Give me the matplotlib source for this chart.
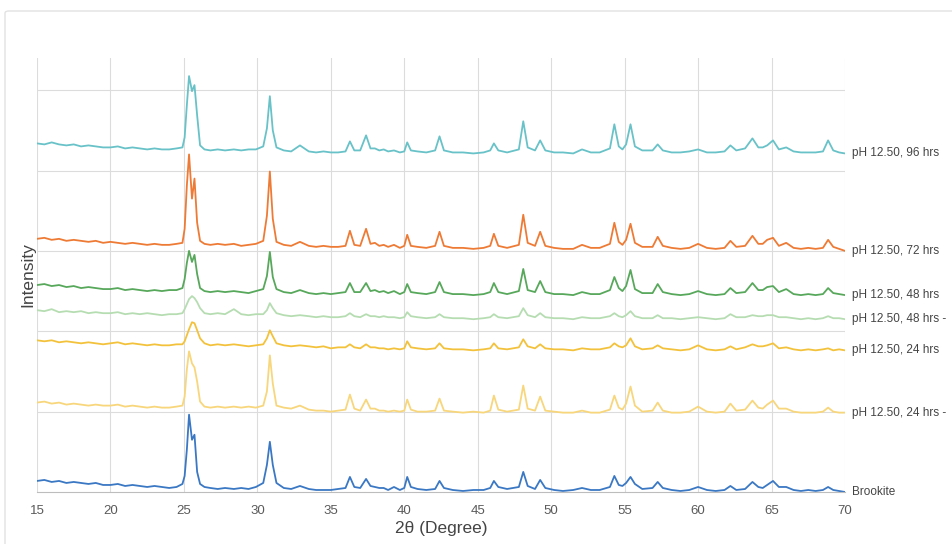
import matplotlib
matplotlib.use("Agg")
import matplotlib.pyplot as plt
from matplotlib.patches import FancyBboxPatch

plt.rcParams['font.family'] = ['Liberation Sans', 'DejaVu Sans']

# 2-theta positions (degree)
two_theta = [
    15.0, 15.5, 16.0, 16.5, 17.0, 17.5, 18.0, 18.5, 19.0, 19.5, 20.0, 20.5, 21.0, 21.5, 22.0, 22.5, 23.0, 23.5, 24.0, 24.5,
    24.9, 25.05, 25.2, 25.35, 25.55, 25.72, 25.9, 26.1,
    26.4, 26.8, 27.3, 27.8, 28.4, 28.9, 29.4, 29.9, 30.4,
    30.65, 30.85, 31.05, 31.3,
    31.8, 32.3, 32.9, 33.5, 34.0, 34.5, 35.0, 35.5, 36.0,
    36.3, 36.6, 37.0, 37.4, 37.7, 38.0, 38.3, 38.6, 38.9, 39.3, 39.7, 40.0, 40.2, 40.45,
    40.9, 41.5, 42.1, 42.4, 42.7, 43.3, 44.0, 44.7, 45.4, 45.85, 46.1, 46.4,
    47.0, 47.8, 48.1, 48.4, 48.9, 49.25, 49.6, 50.2, 50.8, 51.5, 52.1, 52.7,
    53.3, 54.0, 54.3, 54.6, 54.85, 55.1, 55.4, 55.7, 56.2, 56.9, 57.25, 57.6,
    58.2, 58.8, 59.4, 60.0, 60.6, 61.2, 61.8, 62.2, 62.6, 63.2, 63.7, 64.1,
    64.4, 64.7, 65.1, 65.5, 66.0, 66.5, 67.0, 67.5, 68.0, 68.5, 68.85, 69.2,
    69.6, 70.0,
]

# intensities (stacked, arbitrary units)
brookite = [
    11, 12, 10, 11, 9, 10, 9, 8, 9, 7, 7, 8, 6, 7, 6, 5, 6, 5, 4, 5,
    8, 16, 42, 77, 52, 57, 20, 8,
    5, 4, 3, 4, 3, 4, 3, 5, 9,
    27, 50, 27, 9,
    4, 3, 6, 3, 2, 2, 2, 3, 4,
    15, 5, 4, 13, 6, 5, 4, 4, 2, 5, 2, 4, 15, 5,
    3, 2, 3, 11, 4, 2, 1, 2, 2, 4, 11, 5,
    3, 5, 20, 6, 3, 12, 4, 2, 1, 2, 4, 2,
    2, 5, 16, 7, 6, 9, 15, 8, 3, 4, 10, 4,
    2, 1, 2, 5, 2, 1, 2, 6, 2, 3, 10, 5,
    4, 7, 11, 5, 5, 2, 1, 2, 1, 2, 5, 2,
    1, 0,
]
ph24_b = [
    89, 90, 88, 89, 87, 88, 87, 86, 87, 86, 86, 87, 85, 86, 85, 84, 85, 84, 84, 85,
    86, 95, 122, 140, 128, 124, 110, 90,
    85, 84, 85, 84, 85, 84, 85, 84, 86,
    100, 136, 108, 86,
    84, 83, 86, 82, 81, 81, 80, 81, 82,
    97, 83, 81, 92, 83, 83, 81, 81, 80, 81, 80, 81, 92, 82,
    80, 80, 81, 93, 81, 80, 79, 80, 79, 81, 96, 82,
    80, 82, 106, 83, 81, 95, 81, 80, 79, 79, 81, 79,
    79, 82, 96, 84, 82, 88, 105, 86, 80, 81, 89, 81,
    79, 79, 80, 85, 80, 79, 80, 88, 81, 82, 91, 84,
    83, 87, 91, 83, 83, 80, 79, 79, 79, 80, 84, 80,
    79, 79,
]
ph24_a = [
    151, 150, 151, 149, 150, 149, 148, 149, 148, 147, 148, 149, 147, 148, 147, 146, 147, 146, 146, 147,
    147, 150, 156, 162, 169, 168, 161, 153,
    148, 146, 147, 146, 147, 146, 145, 146, 147,
    153, 161, 155, 148,
    146, 145, 146, 145, 144, 145, 143, 144, 144,
    147, 144, 143, 147, 144, 144, 143, 143, 142, 143, 142, 143, 150, 144,
    143, 142, 143, 148, 143, 142, 142, 141, 142, 143, 148, 143,
    142, 144, 152, 145, 143, 147, 143, 142, 142, 141, 143, 142,
    142, 144, 148, 145, 144, 146, 153, 145, 142, 143, 146, 143,
    142, 141, 142, 146, 142, 141, 142, 145, 142, 144, 147, 145,
    145, 146, 148, 143, 144, 142, 141, 142, 141, 142, 143, 141,
    142, 141,
]
ph48_b = [
    181, 180, 182, 179, 180, 179, 180, 178, 179, 178, 178, 179, 177, 178, 177, 178, 177, 176, 177, 177,
    178, 182, 187, 192, 195, 193, 189, 183,
    178, 177, 178, 177, 182, 177, 176, 177, 177,
    181, 188, 183, 178,
    176, 175, 176, 175, 174, 175, 174, 174, 175,
    178, 175, 174, 177, 175, 175, 174, 175, 174, 174, 173, 174, 179, 175,
    174, 173, 174, 177, 174, 173, 173, 172, 173, 174, 177, 174,
    173, 175, 183, 176, 174, 178, 174, 173, 173, 172, 174, 173,
    173, 175, 178, 175, 174, 176, 180, 175, 173, 173, 176, 173,
    173, 172, 173, 174, 173, 172, 173, 177, 174, 174, 176, 175,
    175, 176, 176, 174, 174, 173, 172, 173, 172, 173, 175, 173,
    173, 172,
]
ph48_a = [
    206, 207, 205, 206, 204, 205, 203, 204, 203, 202, 202, 203, 201, 202, 201, 200, 201, 200, 201, 201,
    203, 212, 228, 240, 229, 236, 217, 203,
    200, 199, 200, 199, 200, 199, 198, 200, 202,
    215, 239, 214, 202,
    199, 198, 201, 198, 197, 198, 197, 198, 199,
    208, 199, 199, 208, 200, 201, 199, 200, 198, 200, 197, 199, 207, 199,
    198, 197, 199, 209, 199, 197, 197, 196, 197, 199, 208, 199,
    197, 200, 222, 201, 199, 210, 199, 197, 197, 196, 199, 197,
    197, 201, 214, 203, 200, 205, 221, 202, 198, 198, 207, 199,
    197, 196, 197, 200, 197, 196, 197, 203, 198, 199, 208, 201,
    201, 204, 205, 199, 202, 197, 196, 197, 196, 197, 203, 198,
    197, 196,
]
ph72 = [
    252, 253, 251, 252, 250, 251, 250, 249, 250, 248, 249, 248, 247, 248, 247, 246, 247, 246, 246, 247,
    248, 262, 305, 336, 292, 312, 268, 250,
    247, 246, 247, 246, 247, 245, 246, 247, 250,
    275, 319, 272, 249,
    246, 245, 249, 245, 244, 245, 244, 244, 245,
    260, 246, 245, 262, 247, 248, 245, 246, 244, 246, 243, 245, 256, 245,
    244, 243, 245, 259, 245, 243, 243, 242, 243, 245, 257, 245,
    243, 246, 276, 248, 245, 259, 245, 243, 242, 242, 246, 243,
    243, 247, 268, 249, 246, 251, 267, 248, 244, 244, 254, 245,
    243, 242, 243, 247, 243, 242, 243, 250, 244, 245, 255, 247,
    247, 251, 253, 245, 248, 243, 242, 243, 242, 243, 251, 244,
    242, 240,
]
ph96 = [
    347, 346, 348, 346, 345, 346, 344, 345, 344, 343, 343, 344, 342, 343, 342, 341, 342, 341, 341, 342,
    343, 353, 385, 414, 399, 405, 375, 345,
    341, 340, 341, 340, 341, 340, 341, 341, 344,
    362, 394, 360, 343,
    340, 339, 345, 339, 338, 339, 338, 338, 339,
    349, 340, 340, 355, 342, 342, 340, 341, 339, 340, 338, 339, 348, 340,
    339, 338, 340, 354, 340, 338, 338, 337, 338, 340, 347, 340,
    338, 341, 369, 343, 340, 350, 340, 338, 338, 337, 341, 338,
    338, 342, 366, 344, 341, 346, 366, 344, 340, 340, 346, 340,
    338, 338, 339, 341, 338, 338, 339, 345, 340, 342, 352, 343,
    343, 345, 350, 341, 343, 339, 338, 338, 338, 339, 350, 340,
    338, 337,
]

series = [brookite, ph24_b, ph24_a, ph48_b, ph48_a, ph72, ph96]
labels = ["Brookite", "pH 12.50, 24 hrs -", "pH 12.50, 24 hrs", "pH 12.50, 48 hrs -",
          "pH 12.50, 48 hrs", "pH 12.50, 72 hrs", "pH 12.50, 96 hrs"]
colors = ["#3b78c4", "#f7d67c", "#f3c23c", "#b6ddb2", "#58a85c", "#ee7b35", "#68c2c8"]

fig = plt.figure(figsize=(9.52, 5.44), dpi=100)

ax = fig.add_axes([37 / 952, 52 / 544, 808 / 952, 434 / 544])
ax.set_facecolor("none")

# outer card border (behind everything)
card = FancyBboxPatch((5 / 952, -0.05), 1.0, 1.0 - 11 / 544 + 0.05,
                      boxstyle="round,pad=0,rounding_size=0.004",
                      transform=fig.transFigure, facecolor="none",
                      edgecolor="#e2e2e2", linewidth=1.0, zorder=-5)
fig.patches.append(card)

for ys, lab, c in zip(series, labels, colors):
    ax.plot(two_theta, ys, color=c, linewidth=1.3, solid_joinstyle="round")
    ax.annotate(lab, xy=(two_theta[-1], ys[-1]), xytext=(5, 0),
                textcoords="offset points", va="center", ha="left",
                fontsize=8.5, color="#444444", annotation_clip=False)

ax.set_xlim(15, 70)
ax.set_ylim(0, 432)
ax.set_xticks(range(15, 71, 5))
ax.set_yticks(range(80, 432, 80))
ax.set_yticklabels([])
ax.tick_params(axis="both", length=0, labelsize=9.5, labelcolor="#5a5a5a", pad=9)
ax.grid(True, color="#dcdcdc", linewidth=0.8)
ax.set_axisbelow(True)
for s in ["top", "right", "left"]:
    ax.spines[s].set_visible(False)
ax.spines["bottom"].set_color("#bdbdbd")
ax.set_xlabel("2θ (Degree)", fontsize=12.5, color="#444444", labelpad=3)
ax.set_ylabel("Intensity", fontsize=12.5, color="#444444")
ax.yaxis.set_label_coords(-2 / 808, 0.5)

fig.savefig("out.png", dpi=100)
